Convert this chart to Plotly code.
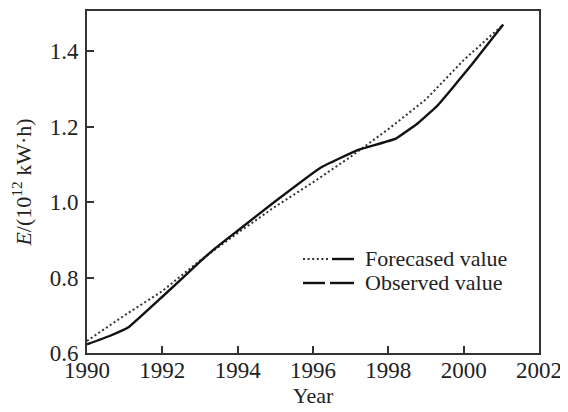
import plotly.graph_objects as go

# Observed values (solid line)
obs_years = [1990.0, 1990.6, 1991.1, 1992.0, 1993.0, 1993.4, 1994.0, 1995.0, 1996.2, 1997.2, 1998.2, 1998.8, 1999.3, 2000.2, 2001.05]
obs_vals = [0.623, 0.645, 0.668, 0.749, 0.842, 0.877, 0.924, 1.002, 1.091, 1.138, 1.168, 1.210, 1.255, 1.362, 1.470]

# Forecasted values (dotted line)
fc_years = [1990.0, 1991.0, 1992.0, 1993.0, 1994.0, 1995.0, 1996.0, 1997.0, 1998.0, 1999.0, 2000.0, 2001.05]
fc_vals = [0.632, 0.700, 0.764, 0.845, 0.918, 0.988, 1.052, 1.120, 1.193, 1.272, 1.376, 1.470]

x_ticks = [1990, 1992, 1994, 1996, 1998, 2000, 2002]
y_ticks = [0.6, 0.8, 1.0, 1.2, 1.4]
y_tick_text = ["0.6", "0.8", "1.0", "1.2", "1.4"]

legend_labels = ["Forecased value", "Observed value"]

FONT = "Liberation Serif"
# page has an 8px body margin: shrink the figure so it fits the 568x412 window
OFF = 8
W, H = 568 - OFF, 412 - OFF
ML, MR, MT, MB = 87 - OFF, 29, 11 - OFF, 59
PW, PH = W - ML - MR, H - MT - MB


def px(x):
    return (x - OFF - ML) / PW


def py(y):
    return (H - MB - (y - OFF)) / PH


fig = go.Figure()
fig.add_trace(go.Scatter(x=fc_years, y=fc_vals, mode="lines",
                         line=dict(color="#333333", width=2, dash="2px,2.6px"),
                         showlegend=False))
fig.add_trace(go.Scatter(x=obs_years, y=obs_vals, mode="lines", line_shape="spline",
                         line=dict(color="#111111", width=2.4, smoothing=0.3),
                         showlegend=False))

shapes = []
# legend row 1: dotted + solid
shapes.append(dict(type="line", xref="paper", yref="paper", x0=px(303), x1=px(328), y0=py(259), y1=py(259),
                   line=dict(color="#333333", width=2, dash="2px,2.6px")))
shapes.append(dict(type="line", xref="paper", yref="paper", x0=px(332), x1=px(354), y0=py(259), y1=py(259),
                   line=dict(color="#111111", width=2.4)))
# legend row 2: dash dash
shapes.append(dict(type="line", xref="paper", yref="paper", x0=px(303), x1=px(325), y0=py(283), y1=py(283),
                   line=dict(color="#111111", width=2.4)))
shapes.append(dict(type="line", xref="paper", yref="paper", x0=px(330), x1=px(354), y0=py(283), y1=py(283),
                   line=dict(color="#111111", width=2.4)))

annotations = []
for lab, yy in zip(legend_labels, [258, 282]):
    annotations.append(dict(text=lab, xref="paper", yref="paper", x=px(363), y=py(yy),
                            xanchor="left", yanchor="middle", showarrow=False,
                            font=dict(family=FONT, size=22, color="#222222")))

fig.update_layout(
    width=W, height=H,
    margin=dict(l=ML, r=MR, t=MT, b=MB),
    paper_bgcolor="white", plot_bgcolor="white",
    shapes=shapes, annotations=annotations,
    font=dict(family=FONT, size=22, color="#222222"),
    xaxis=dict(range=[1990, 2002], tickvals=x_ticks, ticks="inside", ticklen=7, tickwidth=1.5,
               tickcolor="#333333", showline=True, linecolor="#333333", linewidth=2, mirror=True,
               showgrid=False, zeroline=False, automargin=False, ticklabelstandoff=-5,
               tickfont=dict(family=FONT, size=23, color="#222222"),
               title=dict(text="Year", font=dict(family=FONT, size=22, color="#222222"), standoff=2)),
    yaxis=dict(range=[0.6, 1.506], tickvals=y_ticks, ticktext=y_tick_text, ticks="inside", ticklen=7,
               tickwidth=1.5, tickcolor="#333333", showline=True, linecolor="#333333", linewidth=2,
               mirror=True, showgrid=False, zeroline=False, automargin=False, ticklabelstandoff=2,
               tickfont=dict(family=FONT, size=23, color="#222222"),
               title=dict(text="<i>E</i>/(10<sup>12</sup> kW·h)",
                          font=dict(family=FONT, size=22, color="#222222"), standoff=15)),
)

fig.write_html("out.html")
